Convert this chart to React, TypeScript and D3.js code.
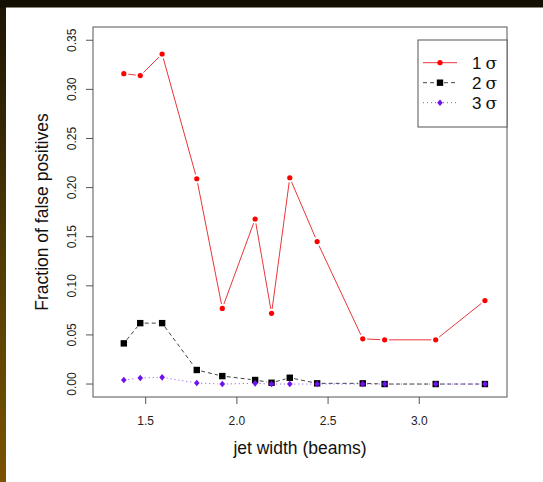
import React from 'react';
import * as d3 from 'd3';

// jet width (beams)
const widths = [1.38, 1.47, 1.59, 1.78, 1.92, 2.1, 2.19, 2.29, 2.44, 2.69, 2.81, 3.09, 3.36];
const sigma1 = [0.316, 0.314, 0.336, 0.209, 0.077, 0.168, 0.072, 0.21, 0.145, 0.046, 0.045, 0.045, 0.085];
const sigma2 = [0.0414, 0.062, 0.062, 0.0143, 0.0081, 0.0041, 0.0013, 0.0064, 0.0007, 0.0007, 0, 0, 0];
const sigma3 = [0.0041, 0.0061, 0.0068, 0.001, 0, 0.0007, 0, 0, 0, 0, 0, 0, 0];

const xTicks = [1.5, 2.0, 2.5, 3.0];
const yTicks = [0, 0.05, 0.1, 0.15, 0.2, 0.25, 0.3, 0.35];
const legendLabels = ['1', '2', '3'];

const W = 543;
const H = 482;
const box = { left: 93, top: 27, right: 507, bottom: 397 };
const font = '"Liberation Sans", Arial, sans-serif';

const x = d3.scaleLinear().domain([1.211, 3.481]).range([box.left, box.right]);
const y = d3.scaleLinear().domain([-0.0132, 0.3635]).range([box.bottom, box.top]);

// R type="b": segments between points, with a gap around each point
function gappedPath(vals: number[], gap = 4.5) {
  let d = '';
  for (let i = 0; i < vals.length - 1; i++) {
    const x0 = x(widths[i]), y0 = y(vals[i]);
    const x1 = x(widths[i + 1]), y1 = y(vals[i + 1]);
    const len = Math.hypot(x1 - x0, y1 - y0);
    if (len <= gap * 2) continue;
    const ux = (x1 - x0) / len, uy = (y1 - y0) / len;
    d += `M${x0 + ux * gap},${y0 + uy * gap}L${x1 - ux * gap},${y1 - uy * gap}`;
  }
  return d;
}

const series = [
  { vals: sigma1, line: '#e8363a', dash: undefined, pt: 'red' },
  { vals: sigma2, line: '#444', dash: '4,3', pt: 'black' },
  { vals: sigma3, line: '#8a4cf0', dash: '1,3', pt: '#7010f0' },
];

function Marker({ k, cx, cy, color }: { k: number; cx: number; cy: number; color: string }) {
  if (k === 0) return <circle cx={cx} cy={cy} r={2.6} fill={color} />;
  if (k === 1) return <rect x={cx - 3.2} y={cy - 3.2} width={6.4} height={6.4} fill={color} />;
  return <path d={`M${cx},${cy - 3.3}L${cx + 2.8},${cy}L${cx},${cy + 3.3}L${cx - 2.8},${cy}Z`} fill={color} />;
}

export default function App() {
  const legendX0 = 423, legendX1 = 457, legendY = [62.7, 82.7, 102.7];
  return (
    <svg width={W} height={H} style={{ position: 'absolute', left: 0, top: 0, background: '#fff' }}>
      <defs>
        <linearGradient id="side" x1="0" y1="0" x2="0" y2="1">
          <stop offset="0" stopColor="#1c1404" />
          <stop offset="0.5" stopColor="#4e3a05" />
          <stop offset="1" stopColor="#7a5300" />
        </linearGradient>
      </defs>
      <rect x={0} y={0} width={6} height={H} fill="url(#side)" />
      <rect x={0} y={0} width={W} height={7.5} fill="#140e03" />

      {/* plot frame */}
      <rect x={box.left} y={box.top} width={box.right - box.left} height={box.bottom - box.top}
        fill="none" stroke="#555" strokeWidth={1} />

      {/* y axis */}
      {yTicks.map(t => (
        <g key={t}>
          <line x1={box.left - 7} x2={box.left} y1={y(t)} y2={y(t)} stroke="#555" />
          <text transform={`translate(${72},${y(t)}) rotate(-90)`} textAnchor="middle" dy="0.35em"
            fontFamily={font} fontSize={12} fill="#222">{t.toFixed(2)}</text>
        </g>
      ))}
      <text transform={`translate(42,${(box.top + box.bottom) / 2}) rotate(-90)`} textAnchor="middle"
        dy="0.35em" fontFamily={font} fontSize={17.5} fill="#111">Fraction of false positives</text>

      {/* x axis */}
      {xTicks.map(t => (
        <g key={t}>
          <line x1={x(t)} x2={x(t)} y1={box.bottom} y2={box.bottom + 7} stroke="#555" />
          <text x={x(t)} y={421} textAnchor="middle" dy="0.35em" fontFamily={font} fontSize={12}
            fill="#222">{t.toFixed(1)}</text>
        </g>
      ))}
      <text x={(box.left + box.right) / 2} y={448} textAnchor="middle" dy="0.35em" fontFamily={font}
        fontSize={17.5} fill="#111">jet width (beams)</text>

      {/* series */}
      {series.map((s, k) => (
        <g key={k}>
          <path d={gappedPath(s.vals)} fill="none" stroke={s.line} strokeWidth={1}
            strokeDasharray={s.dash} />
          {s.vals.map((v, i) => (
            <Marker key={i} k={k} cx={x(widths[i])} cy={y(v)} color={s.pt} />
          ))}
        </g>
      ))}

      {/* legend */}
      <rect x={418} y={40} width={box.right - 418} height={87} fill="#fff" stroke="#555" />
      {series.map((s, k) => (
        <g key={k}>
          <line x1={legendX0} x2={legendX1} y1={legendY[k]} y2={legendY[k]} stroke={s.line}
            strokeDasharray={s.dash} />
          <Marker k={k} cx={(legendX0 + legendX1) / 2} cy={legendY[k]} color={s.pt} />
          <text x={472} y={legendY[k]} dy="0.35em" fontFamily={font} fontSize={17} fill="#111">
            {legendLabels[k]}
            <tspan fontFamily='"DejaVu Serif", "Liberation Serif", serif' dx={4}>σ</tspan>
          </text>
        </g>
      ))}
    </svg>
  );
}
